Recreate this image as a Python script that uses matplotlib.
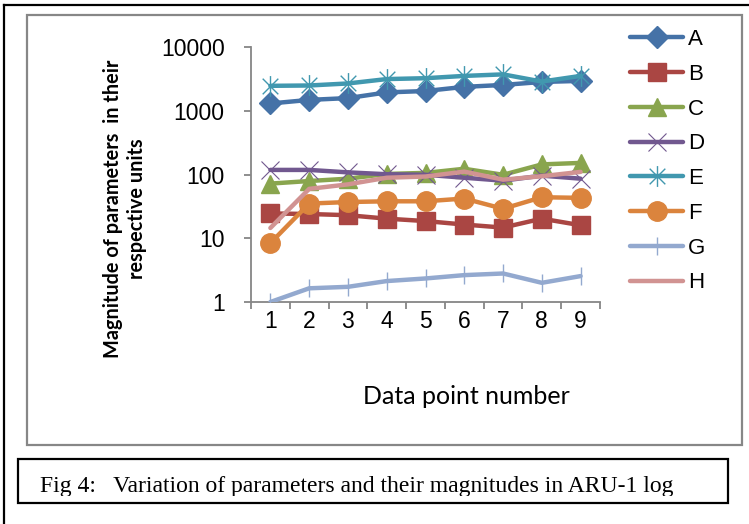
import matplotlib
matplotlib.use('Agg')
import matplotlib.pyplot as plt
import numpy as np
from matplotlib.patches import Rectangle
from matplotlib.path import Path

W, H_PX = 749, 524

# data
points = [1, 2, 3, 4, 5, 6, 7, 8, 9]
A = [1300, 1480, 1580, 1940, 2040, 2370, 2540, 2830, 2940]
B = [24.5, 24, 23, 20.3, 18.6, 16.4, 14.7, 20.3, 16]
C = [72, 79, 86, 102, 106, 123, 99, 144, 152]
D = [118, 118, 108, 101, 99, 89, 80, 96, 86]
E = [2460, 2490, 2680, 3140, 3240, 3520, 3720, 2870, 3520]
F = [8.4, 35, 37, 38, 38, 42, 29, 44, 43]
G = [1.0, 1.64, 1.73, 2.13, 2.34, 2.64, 2.8, 2.0, 2.55]
Hs = [14.5, 59.5, 70, 89, 93, 111, 83, 94, 110]
names = ['A', 'B', 'C', 'D', 'E', 'F', 'G', 'H']
yticks = [1, 10, 100, 1000, 10000]


def px(x):
    return x / W


def py(y):
    return 1 - y / H_PX


# asterisk marker: vertical bar plus an x
star = Path([(0, -1), (0, 1), (-0.75, -0.75), (0.75, 0.75), (-0.75, 0.75), (0.75, -0.75)],
            [Path.MOVETO, Path.LINETO, Path.MOVETO, Path.LINETO, Path.MOVETO, Path.LINETO])

styles = {
    'A': dict(color='#4572A7', marker='D', ms=11),
    'B': dict(color='#AA4643', marker='s', ms=13),
    'C': dict(color='#89A54E', marker='^', ms=13),
    'D': dict(color='#71588F', marker='x', ms=13, mew=0.8),
    'E': dict(color='#4198AF', marker=star, ms=15, mew=1.0),
    'F': dict(color='#DB843D', marker='o', ms=14),
    'G': dict(color='#93A9CF', marker='|', ms=13, mew=1.0),
    'H': dict(color='#D19392', marker='None'),
}
series = dict(zip(names, [A, B, C, D, E, F, G, Hs]))

fig = plt.figure(figsize=(W / 100, H_PX / 100), dpi=100)

# frames around the chart and the caption
fig.add_artist(plt.Line2D([px(4), px(749)], [py(5), py(5)], color='black', lw=1.6))
fig.add_artist(plt.Line2D([px(4), px(4)], [py(5), py(524)], color='black', lw=1.6))
fig.add_artist(Rectangle((px(27), py(445)), px(742) - px(27), py(15) - py(445),
                         fill=False, ec='#878787', lw=1.6))
fig.add_artist(Rectangle((px(18), py(503)), px(728) - px(18), py(459) - py(503),
                         fill=False, ec='black', lw=1.6))
cap = fig.text(px(40), py(492), 'Fig 4:   Variation of parameters and their magnitudes in ARU-1 log',
               family='Liberation Serif', fontsize=17, ha='left', va='baseline')
# the caption is cut off just under the baseline in the original
cap.set_clip_path(Rectangle((0, py(496)), 1, 1, transform=fig.transFigure))

ax = fig.add_axes([px(251), py(302), px(600) - px(251), py(47) - py(302)])
for i, n in enumerate(names):
    st = dict(styles[n])
    ax.plot(points, series[n], lw=3.2, label=n, zorder=2 + i, solid_capstyle='round',
            mec=st['color'], **st)

ax.set_yscale('log')
ax.set_ylim(1, 10000)
ax.set_xlim(0.5, 9.5)
ax.set_yticks(yticks)
ax.set_yticklabels([str(v) for v in yticks])
ax.yaxis.set_minor_locator(matplotlib.ticker.NullLocator())
ax.set_xticks(np.arange(0.5, 10, 1))
ax.set_xticklabels([])
ax.set_xticks(points, minor=True)
ax.set_xticklabels([str(p) for p in points], minor=True)
ax.tick_params(axis='x', which='minor', length=0, pad=6)
ax.tick_params(axis='x', which='major', length=5, color='#868686', width=1.3)
ax.tick_params(axis='y', length=5, color='#868686', width=1.3, pad=14)
for lab in ax.get_xticklabels(minor=True) + ax.get_yticklabels():
    lab.set_family('Liberation Sans')
    lab.set_fontsize(16.5)
for s in ['top', 'right']:
    ax.spines[s].set_visible(False)
for s in ['left', 'bottom']:
    ax.spines[s].set_color('#868686')
    ax.spines[s].set_linewidth(1.3)

fig.text(px(125), py(209), 'Magnitude of parameters  in their\nrespective units', rotation=90,
         ha='center', va='center', multialignment='center', family='Lato', weight='bold',
         fontsize=14.3, linespacing=1.25)
fig.text(px(466), py(397), 'Data point number', ha='center', va='center', family='Lato',
         fontsize=18)

fig.legend(loc='upper left', bbox_to_anchor=(px(630), py(29)), frameon=False,
           prop={'family': 'Liberation Sans', 'size': 16}, handlelength=2.4,
           handletextpad=0.2, labelspacing=0.62, borderpad=0, borderaxespad=0)

fig.savefig('out.png', dpi=100)
